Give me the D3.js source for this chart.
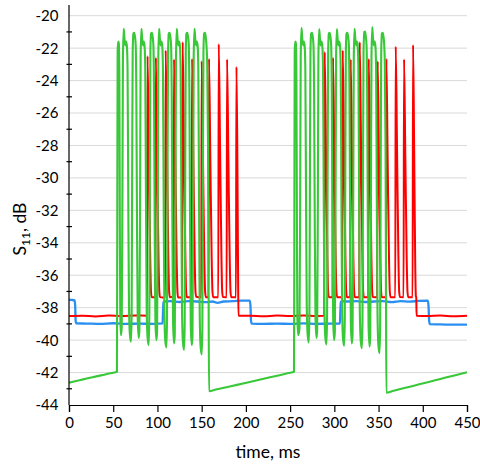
<!DOCTYPE html>
<html>
<head>
<meta charset="utf-8">
<script src="https://cdn.jsdelivr.net/npm/d3@7"></script>
<style>
  html, body { margin: 0; padding: 0; background: #fff; }
  svg { display: block; }
  text { font-family: Lato, "Open Sans", sans-serif; fill: #000; }
</style>
</head>
<body>
<div id="chart"></div>
<script>
// Axis ticks
const xTicks = [0, 50, 100, 150, 200, 250, 300, 350, 400, 450];
const yTicks = [-44, -42, -40, -38, -36, -34, -32, -30, -28, -26, -24, -22, -20];
const yMinorTicks = [-43, -41, -39, -37, -35, -33, -31, -29, -27, -25, -23, -21];

// Blue trace: [time ms, S11 dB]
const blueTrace = [
  [0,-37.5],[3,-37.52],[6.3,-37.55],[7.0,-37.9],[7.5,-38.8],[8.2,-38.97],
  [20,-38.98],[35,-39.0],[50,-38.96],[65,-39.0],[80,-38.98],[95,-39.0],[105.8,-38.97],
  [106.3,-38.3],[106.8,-37.7],[107.5,-37.62],[115,-37.6],[125,-37.65],[135,-37.6],
  [145,-37.62],[155,-37.66],[162,-37.62],[168,-37.7],[175,-37.62],[185,-37.6],
  [195,-37.57],[204.5,-37.56],[205.2,-37.9],[205.8,-38.8],[206.6,-38.98],
  [220,-39.0],[235,-38.98],[250,-39.0],[265,-38.97],[280,-39.0],[295,-38.98],[306.3,-38.98],
  [306.8,-38.3],[307.3,-37.7],[308,-37.6],[315,-37.62],[325,-37.6],[335,-37.65],
  [345,-37.62],[355,-37.6],[365,-37.66],[375,-37.6],[385,-37.63],[395,-37.58],
  [405.8,-37.56],[406.5,-37.9],[407.2,-38.8],[408,-39.02],[420,-39.03],[435,-39.05],[450,-39.04]
];

// Red trace
const redTrace = [
  [0,-38.52],[15,-38.5],[30,-38.54],[45,-38.49],[60,-38.52],[75,-38.48],[88.3,-38.5],
  [88.8,-22.48],[90.3,-28.6],[91.8,-34.8],[92.7,-37.0],[93.5,-37.35],
  [97.7,-37.35],[98.2,-22.58],[99.7,-28.7],[101.2,-34.9],[102.1,-37.0],[102.9,-37.35],
  [108.8,-37.38],[109.3,-22.13],[110.8,-28.4],[112.3,-34.8],[113.2,-37.0],[114.0,-37.35],
  [118.2,-37.33],[118.7,-22.68],[120.2,-28.8],[121.7,-34.9],[122.6,-37.0],[123.4,-37.38],
  [128.0,-37.35],[128.5,-21.62],[130.0,-28.0],[131.5,-34.6],[132.4,-37.0],[133.2,-37.35],
  [138.6,-37.35],[139.1,-22.65],[140.6,-28.8],[142.1,-34.9],[143.0,-37.0],[143.8,-37.33],
  [149.5,-37.37],[150.0,-22.8],[151.5,-28.9],[153.0,-35.0],[153.9,-37.0],[154.7,-37.35],
  [157.8,-37.35],[158.3,-22.65],[159.8,-28.8],[161.3,-34.9],[162.2,-37.0],[163.0,-37.35],
  [168.8,-37.36],[169.3,-21.74],[170.8,-28.1],[172.3,-34.6],[173.2,-37.0],[174.0,-37.34],
  [178.2,-37.35],[178.7,-22.68],[180.2,-28.8],[181.7,-34.9],[182.6,-37.0],[183.4,-37.35],
  [188.8,-37.35],[189.3,-23.15],[190.4,-29.0],[191.2,-36.2],[191.6,-38.5],
  [205,-38.5],[220,-38.53],[235,-38.49],[250,-38.52],[265,-38.48],[280,-38.51],[288.6,-38.5],
  [289.1,-22.23],[290.6,-28.5],[292.1,-34.8],[293.0,-37.0],[293.8,-37.35],
  [298.0,-37.35],[298.5,-22.58],[300.0,-28.7],[301.5,-34.9],[302.4,-37.0],[303.2,-37.35],
  [309.0,-37.36],[309.5,-22.13],[311.0,-28.4],[312.5,-34.8],[313.4,-37.0],[314.2,-37.35],
  [318.0,-37.34],[318.5,-22.68],[320.0,-28.8],[321.5,-34.9],[322.4,-37.0],[323.2,-37.36],
  [328.2,-37.35],[328.7,-21.62],[330.2,-28.0],[331.7,-34.6],[332.6,-37.0],[333.4,-37.35],
  [338.4,-37.35],[338.9,-22.65],[340.4,-28.8],[341.9,-34.9],[342.8,-37.0],[343.6,-37.34],
  [348.5,-37.36],[349.0,-22.8],[350.5,-28.9],[352.0,-35.0],[352.9,-37.0],[353.7,-37.35],
  [358.3,-37.35],[358.8,-22.65],[360.3,-28.8],[361.8,-34.9],[362.7,-37.0],[363.5,-37.35],
  [368.9,-37.36],[369.4,-21.9],[370.9,-28.2],[372.4,-34.7],[373.3,-37.0],[374.1,-37.34],
  [378.3,-37.35],[378.8,-22.68],[380.3,-28.8],[381.8,-34.9],[382.7,-37.0],[383.5,-37.35],
  [388.5,-37.35],[389.0,-21.8],[390.3,-28.5],[391.5,-35.5],[392.2,-37.3],[392.6,-37.35],[393.0,-38.5],
  [405,-38.52],[420,-38.49],[435,-38.53],[450,-38.5]
];

// Green trace: slow ramps between two bursts of pulses
const greenRampStart = [
  [0,-42.62],[8,-42.52],[16,-42.42],[24,-42.32],[32,-42.22],[40,-42.13],[48,-42.03],[54.2,-41.95]
];
const greenBurst1 = [
  [54.6,-32],[55.0,-22.2],[55.6,-21.6],[56.3,-21.7],[56.9,-23.5],[57.5,-33],[58.0,-38.6],[58.8,-39.7],
  [59.6,-39.2],[60.4,-31],[61.0,-22.5],[61.9,-20.8],[62.7,-21.4],[63.7,-21.83],[64.5,-21.6],[65.4,-21.85],[66.2,-23.2],[67.0,-31],[67.8,-37.8],[68.8,-39.6],[70.1,-40.1],
  [70.8,-38.5],[71.4,-30],[72.0,-22.3],[72.8,-21.1],[73.8,-21.05],[74.6,-21.3],[75.4,-21.8],[76.1,-24.5],[76.9,-33],[77.7,-38.6],[78.8,-39.86],
  [79.6,-39.4],[80.4,-31],[81.0,-22.5],[81.9,-20.8],[82.7,-21.4],[83.7,-21.83],[84.5,-21.6],[85.4,-21.85],[86.2,-23.2],[87.0,-31],[87.8,-37.9],[88.8,-39.8],[90.1,-40.3],
  [90.8,-38.6],[91.4,-30],[92.0,-22.3],[92.8,-21.1],[93.8,-21.05],[94.6,-21.3],[95.4,-21.8],[96.1,-24.5],[96.9,-33],[97.7,-38.8],[98.8,-40.0],
  [99.6,-39.5],[100.4,-31],[101.0,-22.5],[101.9,-20.8],[102.7,-21.4],[103.7,-21.83],[104.5,-21.6],[105.4,-21.85],[106.2,-23.2],[107.0,-31],[107.8,-38],[108.8,-40.0],[110.1,-40.45],
  [110.8,-38.8],[111.4,-30],[112.0,-22.3],[112.8,-21.1],[113.8,-21.05],[114.6,-21.3],[115.4,-21.8],[116.1,-24.5],[116.9,-33],[117.7,-39],[118.8,-40.2],
  [119.6,-39.7],[120.4,-31],[121.0,-22.5],[121.9,-20.8],[122.7,-21.4],[123.7,-21.83],[124.5,-21.6],[125.4,-21.85],[126.2,-23.2],[127.0,-31],[127.8,-38.2],[128.8,-40.1],[130.1,-40.6],
  [130.8,-39],[131.4,-30],[132.0,-22.3],[132.8,-21.1],[133.8,-21.05],[134.6,-21.3],[135.4,-21.8],[136.1,-24.5],[136.9,-33],[137.7,-39.1],[138.8,-40.3],
  [139.6,-39.8],[140.4,-31],[141.0,-22.5],[141.9,-20.8],[142.7,-21.4],[143.7,-21.83],[144.5,-21.6],[145.4,-21.85],[146.2,-23.2],[147.0,-31],[147.8,-38.4],[148.8,-40.4],[150.1,-40.88],
  [150.8,-39.2],[151.4,-30],[152.0,-22.3],[152.8,-21.1],[153.8,-21.05],[154.6,-21.3],[155.4,-21.8],[156.3,-23],[157.2,-28],[157.8,-36],[158.3,-43.15]
];
const greenRampMid = [
  [166,-43.05],[178,-42.9],[190,-42.76],[202,-42.61],[214,-42.46],[226,-42.31],[238,-42.16],[248,-42.03],[254.4,-41.95]
];
const greenBurst2 = [
  [254.8,-32],[255.2,-22.2],[255.8,-21.6],[256.5,-21.7],[257.1,-23.5],[257.7,-33],[258.2,-38.6],[259.2,-39.7],
  [260.6,-39.3],[261.4,-31],[262.0,-22.5],[262.9,-20.75],[263.7,-21.4],[264.7,-21.83],[265.5,-21.6],[266.4,-21.85],[267.2,-23.2],[268.0,-31],[268.8,-37.8],[269.8,-39.65],[271.1,-40.15],
  [271.8,-38.5],[272.4,-30],[273.0,-22.3],[273.8,-21.1],[274.8,-21.05],[275.6,-21.3],[276.4,-21.8],[277.1,-24.5],[277.9,-33],[278.7,-38.6],[279.8,-39.86],
  [280.6,-39.4],[281.4,-31],[282.0,-22.5],[282.9,-20.83],[283.7,-21.4],[284.7,-21.83],[285.5,-21.6],[286.4,-21.85],[287.2,-23.2],[288.0,-31],[288.8,-37.9],[289.8,-39.8],[291.1,-40.26],
  [291.8,-38.6],[292.4,-30],[293.0,-22.3],[293.8,-21.1],[294.8,-21.05],[295.6,-21.3],[296.4,-21.8],[297.1,-24.5],[297.9,-33],[298.7,-38.8],[299.8,-40.0],
  [300.6,-39.5],[301.4,-31],[302.0,-22.5],[302.9,-20.83],[303.7,-21.4],[304.7,-21.83],[305.5,-21.6],[306.4,-21.85],[307.2,-23.2],[308.0,-31],[308.8,-38],[309.8,-39.9],[311.1,-40.35],
  [311.8,-38.8],[312.4,-30],[313.0,-22.3],[313.8,-21.1],[314.8,-21.05],[315.6,-21.3],[316.4,-21.8],[317.1,-24.5],[317.9,-33],[318.7,-39],[319.8,-40.2],
  [320.6,-39.7],[321.4,-31],[322.0,-22.5],[322.9,-20.8],[323.7,-21.4],[324.7,-21.83],[325.5,-21.6],[326.4,-21.85],[327.2,-23.2],[328.0,-31],[328.8,-38.2],[329.8,-40.0],[331.1,-40.5],
  [331.8,-39],[332.4,-30],[333.0,-22.3],[333.8,-21.0],[334.8,-20.98],[335.6,-21.3],[336.4,-21.8],[337.1,-24.5],[337.9,-33],[338.7,-39.1],[339.8,-40.4],
  [340.6,-39.8],[341.4,-31],[342.0,-22.5],[342.9,-20.7],[343.7,-21.4],[344.7,-21.83],[345.5,-21.6],[346.4,-21.85],[347.2,-23.2],[348.0,-31],[348.8,-38.3],[349.8,-40.3],[351.1,-40.8],
  [351.8,-39.2],[352.4,-30],[353.0,-22.3],[353.8,-21.1],[354.8,-21.05],[355.6,-21.3],[356.4,-21.8],[357.1,-23],[357.9,-28],[358.4,-36],[358.8,-43.24]
];
const greenRampEnd = [
  [366,-43.14],[378,-42.97],[390,-42.81],[402,-42.64],[414,-42.48],[426,-42.31],[438,-42.15],[450,-41.98]
];
const greenTrace = [].concat(greenRampStart, greenBurst1, greenRampMid, greenBurst2, greenRampEnd);

const series = [
  { name: "blue",  data: blueTrace,  color: "#2a8ff0", width: 2.3 },
  { name: "red",   data: redTrace,   color: "#ff0000", width: 2.0 },
  { name: "green", data: greenTrace, color: "#38c838", width: 2.1 }
];

const W = 480, H = 464;
const plotLeft = 69, plotRight = 467, plotTop = 15.7, plotBottom = 405;

const x = d3.scaleLinear().domain([0, 450]).range([plotLeft, plotRight]);
const y = d3.scaleLinear().domain([-44, -20]).range([plotBottom, plotTop]);

const svg = d3.select("#chart").append("svg")
  .attr("width", W).attr("height", H);

// horizontal gridlines
svg.append("g")
  .selectAll("line")
  .data(yTicks.filter(v => v > -44))
  .join("line")
  .attr("x1", plotLeft).attr("x2", plotRight)
  .attr("y1", d => y(d)).attr("y2", d => y(d))
  .attr("stroke", "#d9d9d9").attr("stroke-width", 1);

// traces
const line = d3.line()
  .x(d => x(d[0]))
  .y(d => y(d[1]))
  .curve(d3.curveMonotoneX);

svg.append("g")
  .selectAll("path")
  .data(series)
  .join("path")
  .attr("d", d => line(d.data))
  .attr("fill", "none")
  .attr("stroke", d => d.color)
  .attr("stroke-width", d => d.width)
  .attr("stroke-linejoin", "round");

// x axis
const xAxis = svg.append("g")
  .attr("transform", `translate(0,${plotBottom})`)
  .call(d3.axisBottom(x).tickValues(xTicks).tickSize(7).tickPadding(5).tickFormat(d3.format("d")));
xAxis.select(".domain").attr("stroke", "#000").attr("stroke-width", 1.2);
xAxis.selectAll(".tick line").attr("stroke", "#000").attr("stroke-width", 1.2);
xAxis.selectAll(".tick text")
  .attr("font-size", 15).attr("font-family", "Lato, 'Open Sans', sans-serif").attr("fill", "#000");

// y axis: labels at even values, short ticks at odd values
const yAxis = svg.append("g").attr("transform", `translate(${plotLeft},0)`);
yAxis.append("line")
  .attr("x1", 0).attr("x2", 0).attr("y1", 5).attr("y2", plotBottom)
  .attr("stroke", "#000").attr("stroke-width", 1.2);
yAxis.selectAll("line.minor")
  .data(yMinorTicks)
  .join("line")
  .attr("class", "minor")
  .attr("x1", -2.5).attr("x2", 3)
  .attr("y1", d => y(d)).attr("y2", d => y(d))
  .attr("stroke", "#000").attr("stroke-width", 1.2);
yAxis.selectAll("text")
  .data(yTicks)
  .join("text")
  .attr("x", -10.5)
  .attr("y", d => y(d))
  .attr("dy", "0.36em")
  .attr("text-anchor", "end")
  .attr("font-size", 15)
  .text(d => d);

// axis titles
svg.append("text")
  .attr("x", (plotLeft + plotRight) / 2)
  .attr("y", 458)
  .attr("text-anchor", "middle")
  .attr("font-size", 17.5)
  .text("time, ms");

const yTitle = svg.append("text")
  .attr("transform", "translate(26,229) rotate(-90)")
  .attr("text-anchor", "middle")
  .attr("font-size", 17.5);
yTitle.append("tspan").text("S");
yTitle.append("tspan").attr("font-size", 12).attr("dy", 4).text("11");
yTitle.append("tspan").attr("dy", -4).text(", dB");
</script>
</body>
</html>
